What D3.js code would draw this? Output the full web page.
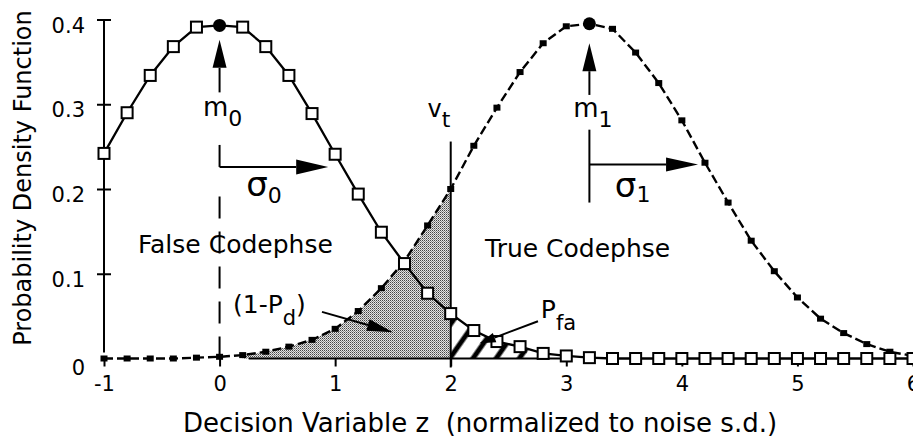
<!DOCTYPE html>
<html>
<head>
<meta charset="utf-8">
<script src="https://cdn.jsdelivr.net/npm/d3@7"></script>
<style>
  html, body { margin: 0; padding: 0; background: #fff; }
  svg text { font-family: "DejaVu Sans", "Liberation Sans", sans-serif; fill: #000; }
</style>
</head>
<body>
<svg id="chart" width="913" height="440"></svg>
<script>
// Decision variable grid (normalized to noise s.d.)
const zGrid = [-1, -0.8, -0.6, -0.4, -0.2, 0, 0.2, 0.4, 0.6, 0.8, 1, 1.2, 1.4, 1.6, 1.8,
               2, 2.2, 2.4, 2.6, 2.8, 3, 3.2, 3.4, 3.6, 3.8, 4, 4.2, 4.4, 4.6, 4.8,
               5, 5.2, 5.4, 5.6, 5.8, 6];
// Density of the false (noise) codephase
const noisePdf = [0.242, 0.290, 0.334, 0.368, 0.391, 0.393, 0.391, 0.368, 0.334, 0.289,
                  0.241, 0.194, 0.149, 0.112, 0.077, 0.053, 0.033, 0.020, 0.014, 0.006,
                  0.003, 0.001, 0, 0, 0, 0, 0, 0, 0, 0, 0, 0, 0, 0, 0, 0];
// Density of the true (signal) codephase
const signalPdf = [0, 0, 0, 0, 0.001, 0.002, 0.004, 0.008, 0.014, 0.022,
                   0.035, 0.056, 0.083, 0.115, 0.157, 0.200, 0.251, 0.296, 0.338, 0.372,
                   0.392, 0.395, 0.389, 0.361, 0.325, 0.281, 0.231, 0.184, 0.139, 0.103,
                   0.072, 0.047, 0.030, 0.017, 0.008, 0.003];

const m0 = 0;          // noise mean
const m1 = 3.2;        // signal mean
const sigma0End = 0.94;
const sigma1End = 4.14;
const vt = 2;          // detection threshold
const missFrom = 0.2;  // left end of the shaded (1-Pd) region
const faTo = 3;        // right end of the hatched Pfa region

const xTicks = [-1, 0, 1, 2, 3, 4, 5, 6];
const xTickLabels = ["-1", "0", "1", "2", "3", "4", "5", "6"];
const yTicks = [0, 0.1, 0.2, 0.3, 0.4];
const yTickLabels = ["0", "0.1", "0.2", "0.3", "0.4"];

const svg = d3.select("#chart");
const x = d3.scaleLinear().domain([-1, 6]).range([104, 913]);
const y = d3.scaleLinear().domain([0, 0.4]).range([358.5, 19.5]);

const noise = zGrid.map((z, i) => ({ z, v: noisePdf[i] }));
const signal = zGrid.map((z, i) => ({ z, v: signalPdf[i] }));

// ---- fill patterns ----
const defs = svg.append("defs");
// fine halftone grey for the miss region
const stip = defs.append("pattern").attr("id", "stipple")
  .attr("patternUnits", "userSpaceOnUse").attr("width", 2).attr("height", 2);
stip.append("rect").attr("width", 2).attr("height", 2).attr("fill", "#e4e4e4");
stip.append("rect").attr("x", 0).attr("y", 0).attr("width", 1).attr("height", 1).attr("fill", "#444");
stip.append("rect").attr("x", 1).attr("y", 1).attr("width", 1).attr("height", 1).attr("fill", "#8a8a8a");

// bold diagonal hatch for the false-alarm region
const hatch = defs.append("pattern").attr("id", "hatch")
  .attr("patternUnits", "userSpaceOnUse").attr("width", 19).attr("height", 19)
  .attr("patternTransform", "rotate(35)");
hatch.append("rect").attr("width", 19).attr("height", 19).attr("fill", "#fff");
hatch.append("line").attr("x1", 4).attr("y1", -2).attr("x2", 4).attr("y2", 21)
  .attr("stroke", "#000").attr("stroke-width", 5);

// ---- shaded regions ----
const area = d3.area().x(d => x(d.z)).y0(y(0)).y1(d => y(d.v));
svg.append("path")
  .datum(signal.filter(d => d.z >= missFrom && d.z <= vt))
  .attr("d", area).attr("fill", "url(#stipple)");
svg.append("path")
  .datum(noise.filter(d => d.z >= vt && d.z <= faTo))
  .attr("d", area).attr("fill", "url(#hatch)");

// baseline under the shaded regions
svg.append("line")
  .attr("x1", x(missFrom) + 6).attr("x2", x(faTo))
  .attr("y1", y(0)).attr("y2", y(0))
  .attr("stroke", "#000").attr("stroke-width", 2);

// ---- axes ----
const yAxis = svg.append("g").attr("transform", `translate(${x(-1)},0)`)
  .call(d3.axisLeft(y).tickValues(yTicks).tickFormat((d, i) => yTickLabels[i])
    .tickSize(0).tickSizeOuter(0).tickPadding(19));
yAxis.select(".domain").attr("stroke", "#000").attr("stroke-width", 2)
  .attr("d", `M0,${y(0) - 6}V${y(0.4)}`);
yAxis.selectAll(".tick line")
  .attr("x1", -7).attr("x2", 7).attr("stroke", "#000").attr("stroke-width", 2)
  .filter(d => d === 0).remove();
yAxis.selectAll(".tick text")
  .style("font-size", "21px").attr("dy", d => d === 0 ? "0.75em" : "0.6em");

const xAxis = svg.append("g").attr("transform", `translate(0,${y(0)})`)
  .call(d3.axisBottom(x).tickValues(xTicks).tickFormat((d, i) => xTickLabels[i])
    .tickSize(8).tickSizeOuter(0).tickPadding(10));
xAxis.select(".domain").remove();
xAxis.selectAll(".tick line").attr("stroke", "#000").attr("stroke-width", 2);
xAxis.selectAll(".tick text").style("font-size", "21px");

// ---- curves ----
const line = d3.line().x(d => x(d.z)).y(d => y(d.v));
svg.append("path").datum(signal).attr("d", line)
  .attr("fill", "none").attr("stroke", "#000").attr("stroke-width", 2.4)
  .attr("stroke-dasharray", "9,4");
svg.append("path").datum(noise).attr("d", line)
  .attr("fill", "none").attr("stroke", "#000").attr("stroke-width", 2.3);

// threshold line
svg.append("line")
  .attr("x1", x(vt)).attr("x2", x(vt))
  .attr("y1", y(0) + 9).attr("y2", y(0.256))
  .attr("stroke", "#000").attr("stroke-width", 2);

// signal markers (small filled squares)
svg.append("g").selectAll("rect")
  .data(signal.filter(d => d.z !== m1))
  .join("rect")
  .attr("x", d => x(d.z) - 3.5).attr("y", d => y(d.v) - 3)
  .attr("width", 7).attr("height", 6).attr("fill", "#000");

// noise markers (open squares)
svg.append("g").selectAll("rect")
  .data(noise.filter(d => d.z !== m0))
  .join("rect")
  .attr("x", d => x(d.z) - 5.5).attr("y", d => y(d.v) - 5.5)
  .attr("width", 11).attr("height", 11)
  .attr("fill", "#fff").attr("stroke", "#000").attr("stroke-width", 2);

// mean markers
svg.append("g").selectAll("circle")
  .data([noise.find(d => d.z === m0), signal.find(d => d.z === m1)])
  .join("circle")
  .attr("cx", d => x(d.z)).attr("cy", d => y(d.v)).attr("r", 6.5).attr("fill", "#000");

// ---- annotations ----
function arrow(x1, y1, x2, y2, len, wid) {
  const a = Math.atan2(y2 - y1, x2 - x1);
  const bx = x2 - len * Math.cos(a), by = y2 - len * Math.sin(a);
  const nx = -Math.sin(a) * wid / 2, ny = Math.cos(a) * wid / 2;
  svg.append("line").attr("x1", x1).attr("y1", y1).attr("x2", bx).attr("y2", by)
    .attr("stroke", "#000").attr("stroke-width", 2);
  svg.append("path")
    .attr("d", `M${x2},${y2}L${bx + nx},${by + ny}L${bx - nx},${by - ny}Z`)
    .attr("fill", "#000");
}
function seg(x1, y1, x2, y2, dash) {
  const l = svg.append("line").attr("x1", x1).attr("y1", y1).attr("x2", x2).attr("y2", y2)
    .attr("stroke", "#000").attr("stroke-width", 2);
  if (dash) l.attr("stroke-dasharray", dash);
}
function label(z, v, main, sub, mainSize, subSize, subDy) {
  const t = svg.append("text").attr("x", x(z)).attr("y", y(v))
    .style("font-size", mainSize + "px").text(main);
  if (sub) t.append("tspan").attr("dy", subDy).style("font-size", subSize + "px").text(sub);
  return t;
}

// mean arrows
arrow(x(m0), y(0.314), x(m0), y(0.376), 28, 14);
arrow(x(m1), y(0.311), x(m1), y(0.372), 28, 14);
label(-0.143, 0.286, "m", "0", 26, 22, 10);
label(3.06, 0.285, "m", "1", 26, 22, 10);

// sigma brackets
seg(x(m0), y(0.252), x(m0), y(0.226));
arrow(x(m0), y(0.226), x(sigma0End), y(0.226), 32, 15);
seg(x(m0), y(0), x(m0), y(0.195), "22,13");
label(0.23, 0.192, "σ", "0", 34, 22, 7);

seg(x(m1), y(0.270), x(m1), y(0.184));
arrow(x(m1), y(0.229), x(sigma1End), y(0.229), 32, 14);
label(3.42, 0.190, "σ", "1", 34, 22, 5);

// threshold label
label(1.8, 0.285, "v", "t", 24, 22, 10);

// region labels
label(-0.706, 0.124, "False Codephse", null, 25);
label(2.297, 0.120, "True Codephse", null, 25);

label(0.116, 0.054, "(1-P", null, 25)
  .call(t => {
    t.append("tspan").attr("dy", 12).style("font-size", "21px").text("d");
    t.append("tspan").attr("dy", -12).text(")");
  });
arrow(x(0.886), y(0.055), x(1.50), y(0.031), 26, 12);

label(2.78, 0.048, "P", "fa", 25, 21, 12);
arrow(x(2.755), y(0.044), x(2.25), y(0.018), 16, 10);

// axis titles
svg.append("text")
  .attr("transform", `translate(31,178) rotate(-90)`)
  .attr("text-anchor", "middle").style("font-size", "24px")
  .text("Probability Density Function");
svg.append("text")
  .attr("x", 183).attr("y", 432).style("font-size", "26px").style("white-space", "pre")
  .text("Decision Variable z  (normalized to noise s.d.)");
</script>
</body>
</html>
